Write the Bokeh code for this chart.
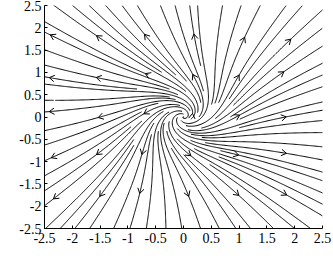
import math
from bokeh.plotting import figure
from bokeh.models import ColumnDataSource, FixedTicker, Label, Range1d
from bokeh.embed import file_html
from bokeh.resources import INLINE

# ---- chart values ----
X_LIMITS = [-2.5, 2.5]
Y_LIMITS = [-2.5, 2.5]
X_TICKS = [-2.5, -2, -1.5, -1, -0.5, 0, 0.5, 1, 1.5, 2, 2.5]
X_TICK_LABELS = ["-2.5", "-2", "-1.5", "-1", "-0.5", "0", "0.5", "1", "1.5", "2", "2.5"]
Y_TICKS = [-2.5, -2, -1.5, -1, -0.5, 0, 0.5, 1, 1.5, 2, 2.5]
Y_TICK_LABELS = ["-2.5", "-2", "-1.5", "-1", "-0.5", "0", "0.5", "1", "1.5", "2", "2.5"]
# vector field: source at the origin plus a counter-clockwise swirl that fades outward
SOURCE_STRENGTH = 1.0
SWIRL_STRENGTH = 1.0
SWIRL_CORE = 0.6
# where the arrow heads sit (approximate grid)
ARROW_X = [-2.4, -1.55, -0.7, 0.15, 1.0, 1.85]
ARROW_Y = [1.85, 0.95, 0.05, -0.85, -1.75]
START_CELLS = 20
END_CELLS = 80

xmin, xmax = X_LIMITS
ymin, ymax = Y_LIMITS


def field(x, y):
    r2 = x * x + y * y
    s = SWIRL_STRENGTH / (r2 + SWIRL_CORE)
    u = SOURCE_STRENGTH * x - s * y
    v = SOURCE_STRENGTH * y + s * x
    m = math.hypot(u, v)
    if m < 1e-12:
        return None
    return u / m, v / m


def cell(x, y, n):
    i = int((x - xmin) / (xmax - xmin) * n)
    j = int((y - ymin) / (ymax - ymin) * n)
    return min(max(i, 0), n - 1), min(max(j, 0), n - 1)


def inside(x, y):
    return xmin <= x <= xmax and ymin <= y <= ymax


H = 0.02
start = set()
end = set()
lines = []
n_start = START_CELLS * START_CELLS
for k in range(n_start):
    idx = (k * 97) % n_start
    ci, cj = idx % START_CELLS, idx // START_CELLS
    if (ci, cj) in start:
        continue
    start.add((ci, cj))
    x0 = xmin + (ci + 0.5) * (xmax - xmin) / START_CELLS
    y0 = ymin + (cj + 0.5) * (ymax - ymin) / START_CELLS
    ec0 = cell(x0, y0, END_CELLS)
    if ec0 in end:
        continue
    end.add(ec0)
    halves = []
    for sign in (1, -1):
        pts = [(x0, y0)]
        last = ec0
        x, y = x0, y0
        for _ in range(4000):
            f1 = field(x, y)
            if f1 is None:
                break
            mx, my = x + sign * H / 2 * f1[0], y + sign * H / 2 * f1[1]
            f2 = field(mx, my)
            if f2 is None:
                break
            nx, ny = x + sign * H * f2[0], y + sign * H * f2[1]
            if not inside(nx, ny):
                pts.append((nx, ny))
                break
            c = cell(nx, ny, END_CELLS)
            if c != last:
                if c in end:
                    break
                end.add(c)
                last = c
            start.add(cell(nx, ny, START_CELLS))
            pts.append((nx, ny))
            x, y = nx, ny
        halves.append(pts)
    line = list(reversed(halves[1])) + halves[0][1:]
    if len(line) > 3:
        lines.append(line)

xs = [[p[0] for p in ln] for ln in lines]
ys = [[p[1] for p in ln] for ln in lines]

# ---- figure ----
W, HGT = 333, 258
BL, BR, BT, BB = 44, 11, 5, 30
p = figure(width=W, height=HGT, x_range=Range1d(*X_LIMITS), y_range=Range1d(*Y_LIMITS),
           output_backend="svg", toolbar_location=None,
           min_border_left=BL, min_border_right=BR, min_border_top=BT, min_border_bottom=BB)
p.outline_line_color = None
p.background_fill_color = "white"
p.border_fill_color = "white"
p.xgrid.visible = False
p.ygrid.visible = False

sx = (W - BL - BR) / (xmax - xmin)
sy = (HGT - BT - BB) / (ymax - ymin)

p.multi_line(xs="xs", ys="ys", source=ColumnDataSource(dict(xs=xs, ys=ys)),
             line_color="#000000", line_width=1.0)

# arrow heads at the streamline vertex nearest to each arrow anchor
ax_list, ay_list = [], []
L = 6.0
ang = math.radians(32)
for ay in ARROW_Y:
    for axv in ARROW_X:
        best = None
        for ln in lines:
            for (px, py) in ln:
                d = math.hypot((px - axv) * sx, (py - ay) * sy)
                if best is None or d < best[0]:
                    best = (d, px, py)
        if best is None or best[0] > 12:
            continue
        _, tx, ty = best
        f = field(tx, ty)
        if f is None:
            continue
        dxp, dyp = f[0] * sx, f[1] * sy
        m = math.hypot(dxp, dyp)
        dxp, dyp = dxp / m, dyp / m
        wings = []
        for a in (ang, -ang):
            wx = -(dxp * math.cos(a) - dyp * math.sin(a)) * L
            wy = -(dxp * math.sin(a) + dyp * math.cos(a)) * L
            wings.append((tx + wx / sx, ty + wy / sy))
        ax_list.append([wings[0][0], tx, wings[1][0]])
        ay_list.append([wings[0][1], ty, wings[1][1]])

p.multi_line(xs="xs", ys="ys", source=ColumnDataSource(dict(xs=ax_list, ys=ay_list)),
             line_color="#000000", line_width=1.0)

FONT = "Liberation Serif"
for axis, ticks, labels in ((p.xaxis[0], X_TICKS, X_TICK_LABELS), (p.yaxis[0], Y_TICKS, Y_TICK_LABELS)):
    axis.ticker = FixedTicker(ticks=ticks)
    axis.major_label_overrides = {t: s for t, s in zip(ticks, labels)}
    axis.minor_tick_line_color = None
    axis.major_tick_in = 3
    axis.major_tick_out = 0
    axis.axis_line_color = "#000000"
    axis.major_tick_line_color = "#000000"
    axis.major_label_text_font = FONT
    axis.major_label_text_font_size = "14px"
    axis.major_label_text_color = "#000000"
p.xaxis[0].major_label_standoff = 4
p.yaxis[0].major_label_standoff = 3

p.add_layout(Label(x=0, y=ymin, y_offset=-23, text="x", text_font=FONT, text_font_size="14px",
                   text_align="center", text_baseline="middle", text_color="#000000"))
p.add_layout(Label(x=xmin, y=0, x_offset=-38, text="y", angle=math.pi / 2, text_font=FONT,
                   text_font_size="14px", text_align="center", text_baseline="middle",
                   text_color="#000000"))

open("out.html", "w").write(file_html(p, INLINE))
